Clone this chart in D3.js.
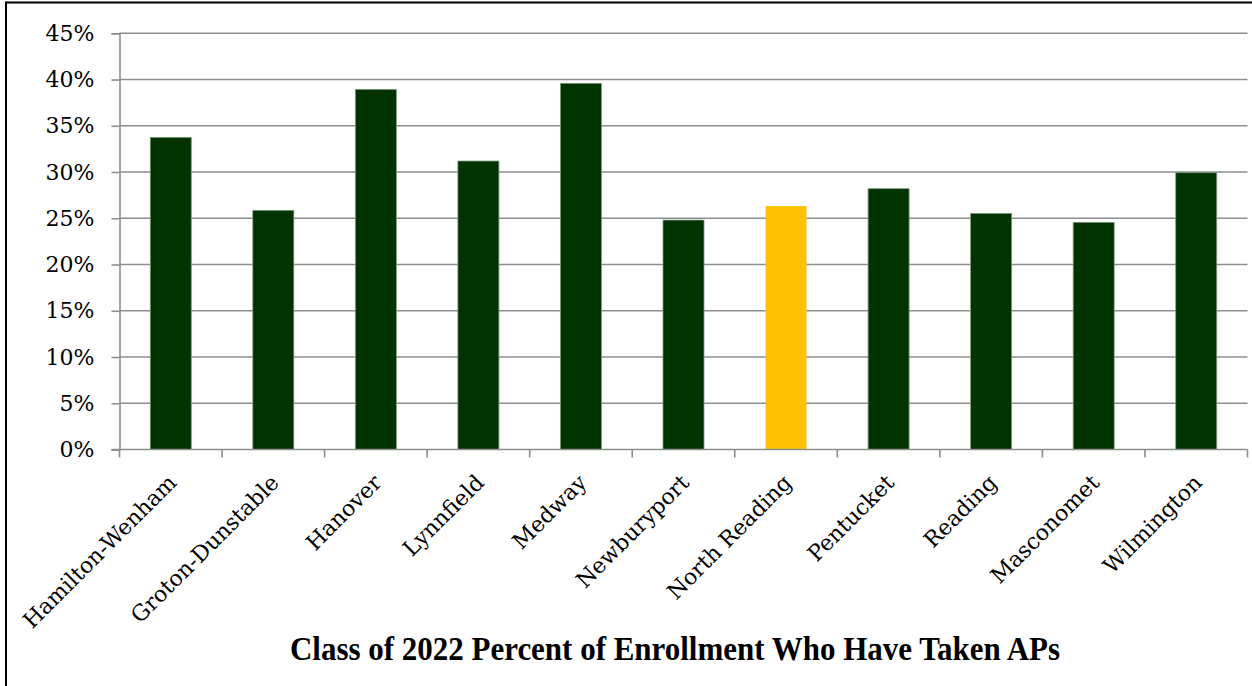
<!DOCTYPE html>
<html>
<head>
<meta charset="utf-8">
<script src="https://cdn.jsdelivr.net/npm/d3@7"></script>
<style>
  html, body { margin: 0; padding: 0; background: #fff; }
  svg { display: block; }
</style>
</head>
<body>
<svg id="chart" width="1252" height="686"></svg>
<script>
const categories = ["Hamilton-Wenham", "Groton-Dunstable", "Hanover", "Lynnfield", "Medway",
  "Newburyport", "North Reading", "Pentucket", "Reading", "Masconomet", "Wilmington"];
const values = [0.3375, 0.2586, 0.3894, 0.3119, 0.3959, 0.2481, 0.2632, 0.2820, 0.2553, 0.2456, 0.2993];
const highlight = ["North Reading"];
const yTicks = [0, 0.05, 0.10, 0.15, 0.20, 0.25, 0.30, 0.35, 0.40, 0.45];
const title = "Class of 2022 Percent of Enrollment Who Have Taken APs";

(function () {
const svg = d3.select("#chart");
const W = 1252, H = 686;
const pLeft = 119.5, pRight = 1247.5, pTop = 33.3, pBottom = 449.5;
const labelFont = "'DejaVu Serif', 'Liberation Serif', serif";

// frame (top and left edges visible in the reference)
svg.append("line").attr("x1", 6).attr("x2", W).attr("y1", 2.5).attr("y2", 2.5)
  .attr("stroke", "#000").attr("stroke-width", 2);
svg.append("line").attr("x1", 6).attr("x2", 6).attr("y1", 1.5).attr("y2", H)
  .attr("stroke", "#000").attr("stroke-width", 2);

const x = d3.scaleBand().domain(categories).range([pLeft, pRight]).paddingInner(0.6).paddingOuter(0.3);
const y = d3.scaleLinear().domain([0, 0.45]).range([pBottom, pTop]);

// gridlines
svg.append("g").selectAll("line").data(yTicks.filter(d => d > 0)).join("line")
  .attr("x1", pLeft).attr("x2", pRight)
  .attr("y1", d => y(d)).attr("y2", d => y(d))
  .attr("stroke", "#8e8e8e").attr("stroke-width", 1.6);

// bars
svg.append("g").selectAll("rect").data(categories).join("rect")
  .attr("x", d => x(d))
  .attr("width", x.bandwidth())
  .attr("y", (d, i) => y(values[i]))
  .attr("height", (d, i) => pBottom - y(values[i]))
  .attr("fill", d => highlight.includes(d) ? "#FFC000" : "#003300")
  .attr("stroke", d => highlight.includes(d) ? "none" : "#7f9a7f")
  .attr("stroke-width", 0.8);

// y axis
const yAxis = d3.axisLeft(y).tickValues(yTicks).tickFormat(d3.format(".0%")).tickSize(8).tickPadding(17);
const gy = svg.append("g").attr("transform", `translate(${pLeft},0)`).call(yAxis);
gy.select(".domain").attr("stroke", "#8e8e8e").attr("stroke-width", 1.6);
gy.selectAll(".tick line").attr("stroke", "#8e8e8e").attr("stroke-width", 1.6);
gy.selectAll(".tick text")
  .attr("font-family", labelFont)
  .attr("font-size", 22).attr("fill", "#000");

// x axis (ticks at band boundaries)
const boundaries = categories.map((d, i) => pLeft + i * (pRight - pLeft) / categories.length).concat([pRight]);
const gx = svg.append("g");
gx.append("line").attr("x1", pLeft - 8).attr("x2", pRight).attr("y1", pBottom).attr("y2", pBottom)
  .attr("stroke", "#8e8e8e").attr("stroke-width", 1.6);
gx.selectAll("line.tk").data(boundaries).join("line").attr("class", "tk")
  .attr("x1", d => d).attr("x2", d => d).attr("y1", pBottom).attr("y2", pBottom + 8)
  .attr("stroke", "#8e8e8e").attr("stroke-width", 1.6);

// category labels rotated -45
svg.append("g").selectAll("text").data(categories).join("text")
  .attr("transform", d => `translate(${x(d) + x.bandwidth() / 2 + 7},${484}) rotate(-45)`)
  .attr("text-anchor", "end")
  .attr("font-family", labelFont)
  .attr("font-size", 22).attr("fill", "#000")
  .text(d => d);

// title
svg.append("text")
  .attr("x", 290).attr("y", 660)
  .attr("textLength", 770).attr("lengthAdjust", "spacingAndGlyphs")
  .attr("font-family", "'Liberation Serif', 'Times New Roman', serif")
  .attr("font-weight", "bold").attr("font-size", 33).attr("fill", "#000")
  .text(title);
})();
</script>
</body>
</html>
